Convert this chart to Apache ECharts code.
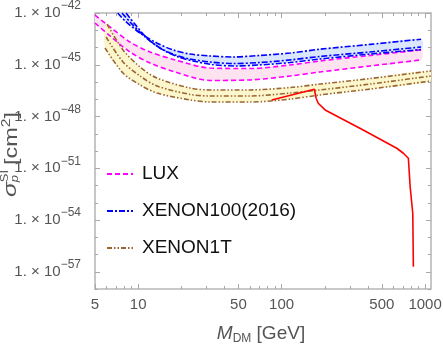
<!DOCTYPE html>
<html>
<head>
<meta charset="utf-8">
<script src="https://cdn.jsdelivr.net/npm/echarts@6/dist/echarts.min.js"></script>
<style>
  html, body { margin: 0; padding: 0; background: #fff; }
  #chart { width: 443px; height: 346px; }
</style>
</head>
<body>
<div id="chart"></div>
<script>
// masses in GeV, cross sections as log10(sigma / cm^2)

// LUX band (upper / lower edge)
const luxM = [5.0, 6.36, 8.77, 12.1, 18.1, 31.7, 60.2, 115, 185, 414, 938];
const luxUpS = [-42.12, -42.81, -43.68, -44.26, -44.72, -45.19, -45.22, -45.01, -44.78, -44.46, -44.14];
const luxLoS = [-42.58, -43.33, -44.26, -44.90, -45.42, -45.91, -45.88, -45.65, -45.42, -45.07, -44.72];

// XENON100(2016): upper, central, lower
const x100UpM = [7.2, 8.1, 10.3, 13.5, 17.5, 23, 31.7, 45.8, 70.7, 115, 185, 414, 938];
const x100UpS = [-42.0, -42.46, -43.16, -43.74, -44.14, -44.38, -44.49, -44.55, -44.46, -44.32, -44.10, -43.82, -43.52];
const x100MidM = [7.71, 8.77, 11.2, 14.2, 18.1, 23, 31.7, 45.8, 70.7, 115, 185, 414, 938];
const x100MidS = [-42.0, -42.52, -43.39, -44.03, -44.43, -44.67, -44.84, -44.93, -44.87, -44.72, -44.52, -44.26, -43.97];
const x100LoM = [8.23, 9.35, 11.7, 14.9, 19.0, 24.1, 32.7, 47.3, 70.7, 115, 185, 414, 938];
const x100LoS = [-42.0, -42.58, -43.51, -44.14, -44.55, -44.78, -44.99, -45.07, -45.01, -44.87, -44.67, -44.38, -44.12];

// XENON1T: upper, central, lower
const x1tUpM = [6.07, 7.84, 10.3, 13.5, 23.0, 31.7, 60.2, 115, 185, 414, 1100];
const x1tUpS = [-42.64, -44.14, -45.13, -45.77, -46.35, -46.46, -46.46, -46.32, -46.12, -45.80, -45.36];
const x1tMidM = [5.97, 7.84, 10.3, 13.5, 23.0, 31.7, 60.2, 115, 185, 414, 1100];
const x1tMidS = [-43.39, -44.84, -45.65, -46.23, -46.72, -46.81, -46.81, -46.64, -46.46, -46.12, -45.65];
const x1tLoM = [5.87, 7.84, 10.3, 13.5, 23.0, 31.7, 60.2, 115, 185, 414, 1100];
const x1tLoS = [-44.03, -45.48, -46.17, -46.64, -47.04, -47.16, -47.16, -46.99, -46.75, -46.41, -45.94];

// model curve (red)
const redM = [85.3, 169, 174, 180, 201, 362, 635, 706, 765, 787, 821, 829];
const redS = [-47.04, -46.42, -46.94, -47.23, -47.62, -48.74, -49.84, -50.13, -50.42, -52.07, -53.61, -56.71];

// ticks
const xMajor = [5, 10, 50, 100, 500, 1000];
const xMinor = [6, 7, 8, 9, 20, 30, 40, 60, 70, 80, 90, 200, 300, 400, 600, 700, 800, 900];
const yMajor = [-57, -54, -51, -48, -45, -42];
const yMinor = [-58, -56, -55, -53, -52, -50, -49, -47, -46, -44, -43];

const FONT = "'Liberation Sans Narrow', 'Liberation Sans', Arial, sans-serif";
const TICK = '#a8a8a8';
const lg = Math.log10;
const pts = (m, s) => m.map((v, i) => [lg(v), s[i]]);

const xMin = lg(5), xMax = lg(1100);

function xAx(pos, vals, len, withLabels) {
    return {
        type: 'value', min: xMin, max: xMax, position: pos,
        axisLine: { show: false }, splitLine: { show: false },
        axisTick: { inside: true, length: len, customValues: vals.map(lg), lineStyle: { color: TICK, width: 1 } },
        axisLabel: withLabels ? {
            customValues: vals.map(lg), margin: 8, color: '#555', fontSize: 15, fontFamily: FONT,
            formatter: v => String(Math.round(Math.pow(10, v)))
        } : { show: false }
    };
}

function yAx(pos, vals, len, withLabels) {
    return {
        type: 'value', min: -58, max: -42, position: pos,
        axisLine: { show: false }, splitLine: { show: false },
        axisTick: { inside: true, length: len, customValues: vals, lineStyle: { color: TICK, width: 1 } },
        axisLabel: withLabels ? {
            customValues: vals, margin: 14,
            formatter: v => '{b|1. × 10}{s|−' + Math.abs(Math.round(v)) + '}',
            rich: {
                b: { fontSize: 15, color: '#555', fontFamily: FONT, lineHeight: 16 },
                s: { fontSize: 12, color: '#555', fontFamily: FONT, lineHeight: 12, padding: [0, 0, 14, 0] }
            }
        } : { show: false }
    };
}

function lineS(name, m, s, color, dash, smooth) {
    return {
        name, type: 'line', data: pts(m, s), symbol: 'none', showSymbol: false,
        smooth: smooth, clip: true, silent: true, z: 3,
        lineStyle: { color, width: 1.6, type: dash },
        itemStyle: { color }
    };
}

function band(upM, upS, loM, loS, fill) {
    const ring = pts(upM, upS).concat(pts(loM, loS).reverse());
    return {
        type: 'custom', silent: true, clip: true, z: 1,
        data: [[1, -50]],
        renderItem: (params, api) => ({
            type: 'polygon',
            shape: { points: ring.map(p => api.coord(p)), smooth: 0.3 },
            style: { fill: fill, stroke: null }
        })
    };
}

const luxDash = [5, 3];
const x100Dash = [6, 2, 2, 2];
const x1tDash = [5, 2, 1.5, 2, 1.5, 2];

const chart = echarts.init(document.getElementById('chart'));
chart.setOption({
    animation: false,
    grid: {
        left: 95, top: 13, width: 336, height: 276,
        show: true, borderColor: '#b8b8b8', borderWidth: 1.6,
        outerBoundsMode: 'none'
    },
    legend: {
        data: ['LUX', 'XENON100(2016)', 'XENON1T'],
        orient: 'vertical', left: 106, top: 164, padding: 0,
        itemWidth: 26, itemHeight: 14, itemGap: 17,
        itemStyle: { opacity: 0 },
        textStyle: { fontSize: 19, color: '#111', fontFamily: FONT, lineHeight: 20, padding: [0, 0, 0, 4] }
    },
    xAxis: [
        xAx('bottom', xMajor, 5, true),
        xAx('bottom', xMinor, 3, false),
        xAx('top', xMajor, 5, false),
        xAx('top', xMinor, 3, false)
    ],
    yAxis: [
        yAx('left', yMajor, 5, true),
        yAx('left', yMinor, 3, false),
        yAx('right', yMajor, 5, false),
        yAx('right', yMinor, 3, false)
    ],
    series: [
        lineS('LUX', luxM, luxUpS, '#ff00ff', luxDash, 0.3),
        lineS('LUX', luxM, luxLoS, '#ff00ff', luxDash, 0.3),
        lineS('XENON100(2016)', x100UpM, x100UpS, '#0000ff', x100Dash, 0.3),
        lineS('XENON100(2016)', x100MidM, x100MidS, '#0000ff', x100Dash, 0.3),
        lineS('XENON100(2016)', x100LoM, x100LoS, '#0000ff', x100Dash, 0.3),
        lineS('XENON1T', x1tUpM, x1tUpS, '#996633', x1tDash, 0.3),
        lineS('XENON1T', x1tMidM, x1tMidS, '#996633', x1tDash, 0.3),
        lineS('XENON1T', x1tLoM, x1tLoS, '#996633', x1tDash, 0.3),
        band(x100UpM, x100UpS, x100LoM, x100LoS, '#d9e6fc'),
        band(luxM, luxUpS, luxM, luxLoS, '#fde2ef'),
        band(x1tUpM, x1tUpS, x1tLoM, x1tLoS, '#fcf6cd'),
        {
            name: 'model', type: 'line', data: pts(redM, redS), symbol: 'none', showSymbol: false,
            clip: true, silent: true, z: 4,
            lineStyle: { color: '#ff0000', width: 1.6 }
        }
    ],
    graphic: [
        {
            type: 'text', x: 261, y: 334,
            style: {
                text: '{i|M}{sub|DM}{n| [GeV]}',
                align: 'center', verticalAlign: 'middle',
                rich: {
                    i: { fontSize: 19, fontStyle: 'italic', fill: '#555', fontFamily: FONT, lineHeight: 20 },
                    sub: { fontSize: 12, fill: '#555', fontFamily: FONT, lineHeight: 12, padding: [10, 0, 0, 0] },
                    n: { fontSize: 19, fill: '#555', fontFamily: FONT, lineHeight: 20 }
                }
            }
        },
        {
            type: 'group', x: 12, y: 153, rotation: Math.PI / 2, scaleX: 1.3,
            children: [
                { type: 'text', x: -33.8, y: -1, style: { text: 'σ', fontSize: 19, fontStyle: 'italic', fill: '#555', fontFamily: 'Liberation Sans', align: 'left', verticalAlign: 'middle' } },
                { type: 'text', x: -22.5, y: -7, style: { text: 'SI', fontSize: 10, fill: '#555', fontFamily: 'Liberation Sans', align: 'left', verticalAlign: 'middle' } },
                { type: 'text', x: -22.5, y: 3, style: { text: 'p', fontSize: 10, fontStyle: 'italic', fill: '#555', fontFamily: 'Liberation Sans', align: 'left', verticalAlign: 'middle' } },
                {
                    type: 'text', x: -9.2, y: 0,
                    style: {
                        text: '{b|[cm}{s|2}{b|]}', align: 'left', verticalAlign: 'middle',
                        rich: {
                            b: { fontSize: 18, fill: '#555', fontFamily: 'Liberation Sans', lineHeight: 18 },
                            s: { fontSize: 12, fill: '#555', fontFamily: 'Liberation Sans', lineHeight: 12, padding: [0, 0, 10, 0] }
                        }
                    }
                }
            ]
        }
    ]
});
</script>
</body>
</html>
